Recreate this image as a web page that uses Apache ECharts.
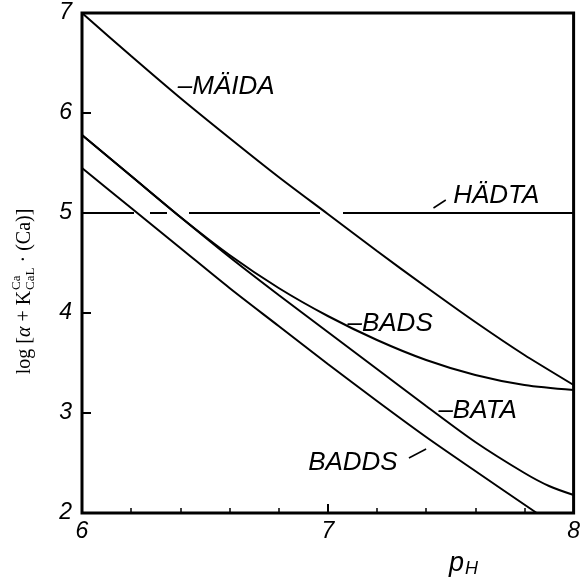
<!DOCTYPE html>
<html><head><meta charset="utf-8">
<script src="https://cdn.jsdelivr.net/npm/echarts@6/dist/echarts.min.js"></script>
<style>html,body{margin:0;padding:0;background:#fff}#c{width:583px;height:577px}</style>
</head><body><div id="c"></div>
<script>
// ---- data ----
const xTicks = [6, 7, 8];
const yTicks = [2, 3, 4, 5, 6, 7];

const maidaX = [6.0, 6.2, 6.4, 6.6, 6.8, 7.0, 7.2, 7.4, 7.6, 7.8, 8.0];
const maidaY = [7.0, 6.57, 6.15, 5.75, 5.36, 4.99, 4.62, 4.26, 3.91, 3.58, 3.28];

const hadtaX = [6.0, 8.0];
const hadtaY = [5.0, 5.0];

const badsX = [6.0, 6.2, 6.4, 6.6, 6.8, 7.0, 7.2, 7.4, 7.6, 7.8, 8.0];
const badsY = [5.78, 5.37, 4.96, 4.58, 4.25, 3.97, 3.73, 3.53, 3.38, 3.28, 3.23];

const bataX = [6.0, 6.2, 6.4, 6.6, 6.8, 7.0, 7.2, 7.4, 7.6, 7.8, 7.9, 8.0];
const bataY = [5.78, 5.37, 4.96, 4.56, 4.18, 3.81, 3.44, 3.07, 2.71, 2.40, 2.27, 2.18];

const baddsX = [6.0, 6.2, 6.4, 6.6, 6.8, 7.0, 7.2, 7.4, 7.6, 7.85];
const baddsY = [5.45, 5.05, 4.65, 4.25, 3.87, 3.49, 3.12, 2.76, 2.42, 2.0];

const seriesNames = ['MÄIDA', 'HÄDTA', 'BADS', 'BATA', 'BADDS'];

// ---- helpers ----
const zip = (xs, ys) => xs.map((x, i) => [x, ys[i]]);
const LBL_FONT = 'italic 26px "Liberation Sans", Arial, sans-serif';

const chart = echarts.init(document.getElementById('c'), null, {renderer: 'canvas'});

const lineBase = (name, xs, ys, extra) => Object.assign({
  name, type: 'line', data: zip(xs, ys), showSymbol: false, symbol: 'none',
  smooth: 0.3, silent: true,
  lineStyle: {color: '#000', width: 2}
}, extra || {});

const tickLabel = {
  color: '#000', fontFamily: '"Liberation Sans", Arial, sans-serif', fontStyle: 'italic',
  fontSize: 23, formatter: v => String(Math.round(v))
};

chart.setOption({
  animation: false,
  backgroundColor: '#fff',
  grid: {left: 82, right: 3, top: 13, bottom: 64, show: true,
         borderColor: '#000', borderWidth: 3, backgroundColor: 'transparent'},
  xAxis: {
    type: 'value', min: xTicks[0], max: xTicks[xTicks.length - 1], interval: 1,
    axisLine: {show: false},
    axisTick: {show: true, inside: true, length: 9, lineStyle: {color: '#000', width: 2}},
    minorTick: {show: true, splitNumber: 5, length: 5, lineStyle: {color: '#000', width: 1.5}},
    splitLine: {show: false},
    axisLabel: Object.assign({margin: 7}, tickLabel)
  },
  yAxis: {
    type: 'value', min: yTicks[0], max: yTicks[yTicks.length - 1], interval: 1,
    axisLine: {show: false},
    axisTick: {show: true, inside: true, length: 9, lineStyle: {color: '#000', width: 2}},
    splitLine: {show: false},
    axisLabel: Object.assign({margin: 10}, tickLabel)
  },
  series: [
    lineBase(seriesNames[0], maidaX, maidaY),
    lineBase(seriesNames[1], hadtaX, hadtaY, {smooth: false,
      lineStyle: {color: '#000', width: 2, type: [52, 16, 17, 22, 131, 23, 400]}}),
    lineBase(seriesNames[2], badsX, badsY),
    lineBase(seriesNames[3], bataX, bataY),
    lineBase(seriesNames[4], baddsX, baddsY)
  ]
});

// ---- annotations (in data coordinates) ----
const P = (x, y) => chart.convertToPixel({gridIndex: 0}, [x, y]);
const txt = (s, at, align) => ({
  type: 'text', x: at[0], y: at[1], silent: true,
  style: {text: s, font: LBL_FONT, fill: '#000', textAlign: align || 'left', textVerticalAlign: 'middle'}
});
const seg = (a, b) => ({
  type: 'line', silent: true,
  shape: {x1: a[0], y1: a[1], x2: b[0], y2: b[1]},
  style: {stroke: '#000', lineWidth: 1.5}
});

const g = [];
g.push(txt('–' + seriesNames[0], P(6.39, 6.26)));
g.push(seg(P(7.43, 5.05), P(7.48, 5.13)));
g.push(txt(seriesNames[1], P(7.51, 5.17)));
g.push(txt('–' + seriesNames[2], P(7.08, 3.89)));
g.push(txt('–' + seriesNames[3], P(7.45, 3.02)));
g.push(txt(seriesNames[4], P(6.92, 2.5)));
g.push(seg(P(7.33, 2.55), P(7.40, 2.64)));

// x-axis title pH
g.push({type: 'text', x: 449, y: 563, silent: true,
  style: {text: 'p', font: 'italic 27px "Liberation Sans", sans-serif', fill: '#000',
          textAlign: 'left', textVerticalAlign: 'middle'}});
g.push({type: 'text', x: 465, y: 569, silent: true,
  style: {text: 'H', font: 'italic 18px "Liberation Sans", sans-serif', fill: '#000',
          textAlign: 'left', textVerticalAlign: 'middle'}});

// y-axis title: log [α + K^Ca_CaL · (Ca)]
const mctx = document.createElement('canvas').getContext('2d');
const mw = (s, f) => { mctx.font = f; return mctx.measureText(s).width; };
const SF = '20px "Liberation Serif", "Times New Roman", serif';
const SFI = 'italic 20px "Liberation Serif", "Times New Roman", serif';
const SS = '13px "Liberation Serif", "Times New Roman", serif';
const parts1 = 'log [', parts2 = 'α', parts3 = ' + K', sup = 'Ca', sub = 'CaL', parts4 = ' · (Ca)]';
const w1 = mw(parts1, SF), w2 = mw(parts2, SFI), w3 = mw(parts3, SF);
const wS = Math.max(mw(sup, SS), mw(sub, SS)), w4 = mw(parts4, SF);
const total = w1 + w2 + w3 + wS + w4;
let cx = -total / 2;
const kids = [];
const tt = (s, f, x, y) => ({type: 'text', x, y, silent: true,
  style: {text: s, font: f, fill: '#000', textAlign: 'left', textVerticalAlign: 'middle'}});
kids.push(tt(parts1, SF, cx, 0)); cx += w1;
kids.push(tt(parts2, SFI, cx, 0)); cx += w2;
kids.push(tt(parts3, SF, cx, 0)); cx += w3;
kids.push(tt(sup, SS, cx + 1, -8));
kids.push(tt(sub, SS, cx + 1, 6)); cx += wS + 1;
kids.push(tt(parts4, SF, cx, 0));
g.push({type: 'group', x: 25, y: 292, rotation: Math.PI / 2, children: kids});

chart.setOption({graphic: g});
</script>
</body></html>
